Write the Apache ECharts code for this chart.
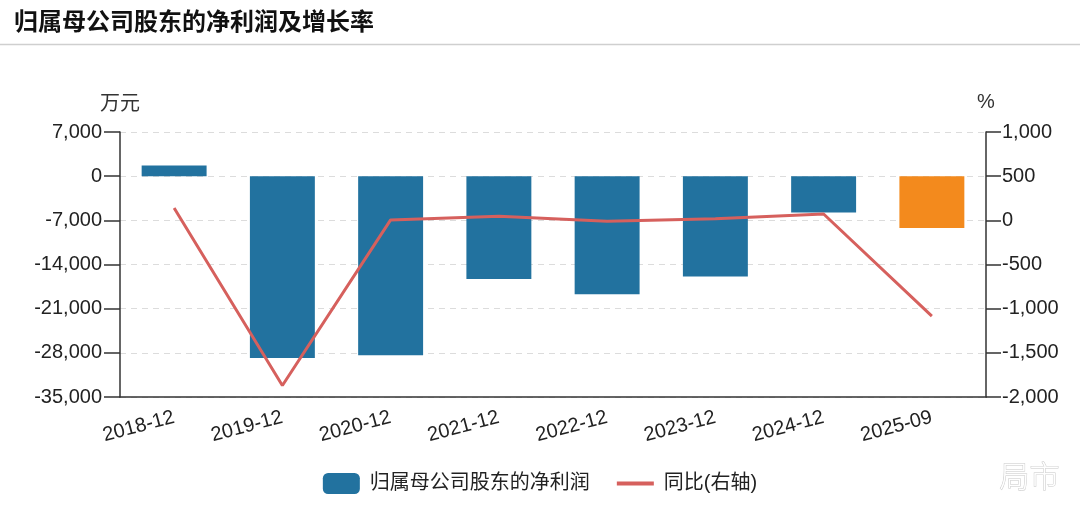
<!DOCTYPE html>
<html>
<head>
<meta charset="utf-8">
<script src="https://cdn.jsdelivr.net/npm/echarts@6/dist/echarts.min.js"></script>
<style>
html,body{margin:0;padding:0;background:#fff;}
#main{width:1080px;height:511px;}
</style>
</head>
<body>
<div id="main"></div>
<script>
const categories = ['2018-12','2019-12','2020-12','2021-12','2022-12','2023-12','2024-12','2025-09'];
const netProfit = [1700, -28800, -28400, -16300, -18700, -15900, -5750, -8200];
const growthPct = [140, -1870, 5, 45, -10, 18, 72, -1085];
const leftTicks = { min: -35000, max: 7000, interval: 7000 };
const rightTicks = { min: -2000, max: 1000, interval: 500 };

const FONT = "'Liberation Sans', 'Noto Sans CJK SC', sans-serif";
const BLUE = '#22729f';
const ORANGE = '#f38a1d';
const RED = '#d6605d';
function commas(v){ return String(v).replace(/\B(?=(\d{3})+(?!\d))/g, ','); }

const chart = echarts.init(document.getElementById('main'));
chart.setOption({
  animation: false,
  backgroundColor: '#fff',
  textStyle: { fontFamily: FONT },
  title: {
    text: '归属母公司股东的净利润及增长率',
    left: 9, top: 6,
    textStyle: { fontSize: 24, fontWeight: 'bold', color: '#111', fontFamily: FONT }
  },
  graphic: [
    { type: 'line', shape: { x1: 0, y1: 44.5, x2: 1080, y2: 44.5 }, style: { stroke: '#cfcfcf', lineWidth: 1.5 } },
    { type: 'text', right: 20, top: 460, style: { text: '局市', fontSize: 30, fill: '#ffffff', stroke: '#c8c8c8', lineWidth: 1, fontFamily: "'Noto Sans CJK SC', sans-serif", fontWeight: 200 } }
  ],
  legend: {
    bottom: 12,
    left: 'center',
    itemWidth: 37,
    itemHeight: 21,
    itemGap: 25,
    textStyle: { fontSize: 20, color: '#222', fontFamily: FONT, padding: [0, 0, 0, 5] },
    data: [
      { name: '归属母公司股东的净利润', icon: 'roundRect', itemStyle: { color: BLUE } },
      { name: '同比(右轴)', itemStyle: { opacity: 0 }, lineStyle: { color: RED, width: 4 } }
    ]
  },
  grid: { left: 120, right: 94, top: 132, bottom: 114 },
  xAxis: {
    type: 'category',
    data: categories,
    axisLine: { onZero: false, lineStyle: { color: '#333', width: 1.5 } },
    axisTick: { alignWithLabel: true, length: 14, lineStyle: { color: '#333', width: 1.5 } },
    axisLabel: { rotate: 15, fontSize: 20, color: '#222', margin: 20, fontFamily: FONT }
  },
  yAxis: [
    {
      type: 'value',
      name: '万元',
      nameLocation: 'end',
      nameGap: 18,
      nameTextStyle: { fontSize: 20, color: '#333', align: 'center', fontFamily: FONT },
      min: leftTicks.min, max: leftTicks.max, interval: leftTicks.interval,
      axisLine: { show: true, lineStyle: { color: '#333', width: 1.5 } },
      axisTick: { show: true, length: 16, lineStyle: { color: '#333', width: 1.5 } },
      axisLabel: { fontSize: 20, color: '#222', margin: 18, formatter: commas, fontFamily: FONT },
      splitLine: { show: true, lineStyle: { color: '#dcdcdc', type: [6, 5], width: 1 } }
    },
    {
      type: 'value',
      name: '%',
      nameLocation: 'end',
      nameGap: 20,
      nameTextStyle: { fontSize: 20, color: '#333', align: 'center', fontFamily: FONT },
      min: rightTicks.min, max: rightTicks.max, interval: rightTicks.interval,
      position: 'right',
      axisLine: { show: true, lineStyle: { color: '#333', width: 1.5 } },
      axisTick: { show: true, length: 15, lineStyle: { color: '#333', width: 1.5 } },
      axisLabel: { fontSize: 20, color: '#222', margin: 16, formatter: commas, fontFamily: FONT },
      splitLine: { show: false }
    }
  ],
  series: [
    {
      name: '归属母公司股东的净利润',
      type: 'bar',
      yAxisIndex: 0,
      barWidth: '60%',
      itemStyle: { color: BLUE },
      data: netProfit.map((v, i) => i === netProfit.length - 1 ? { value: v, itemStyle: { color: ORANGE } } : v)
    },
    {
      name: '同比(右轴)',
      type: 'line',
      yAxisIndex: 1,
      symbol: 'none',
      lineStyle: { color: RED, width: 3 },
      itemStyle: { color: RED },
      data: growthPct
    }
  ]
});
</script>
</body>
</html>
